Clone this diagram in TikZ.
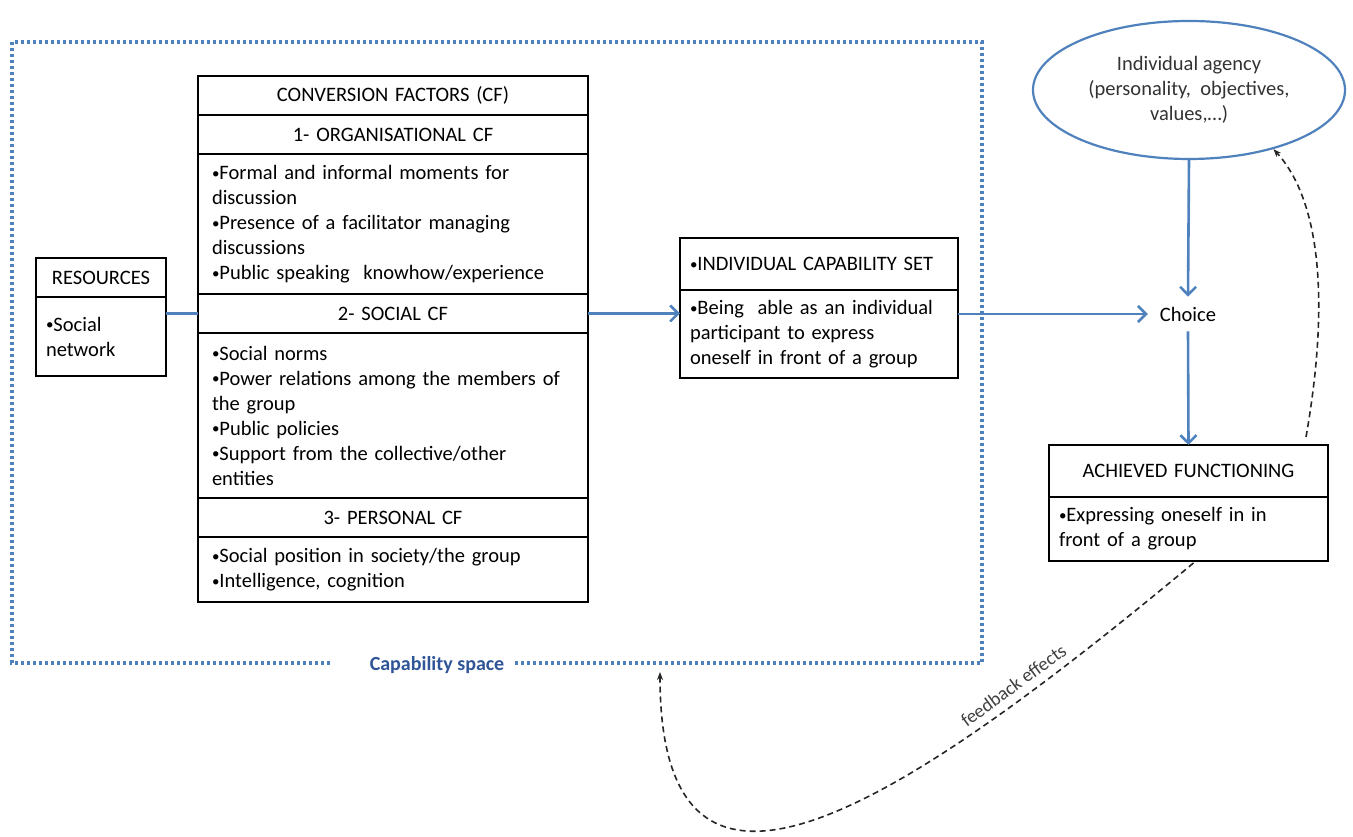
\documentclass[tikz,border=0pt]{standalone}
\usepackage{fontspec}
\setmainfont{Carlito}
\usetikzlibrary{positioning, shapes.geometric, arrows.meta}
\definecolor{office}{RGB}{79,129,189}
\definecolor{spacetext}{RGB}{47,85,151}
\newcommand\bul{\raisebox{1.2pt}{\fontsize{15}{15}\selectfont•}}

\begin{document}
\begin{tikzpicture}[x=1pt, y=1pt,
  cell/.style={draw, line width=1.3pt, outer sep=0pt, inner xsep=14pt, inner ysep=0pt,
    align=left, font=\fontsize{20.5}{25}\selectfont},
  cfhead/.style={cell, align=center, minimum height=39pt},
  flow/.style={draw=office, line width=2.6pt, -{Straight Barb[length=8pt,width=16pt]}},
  feedback/.style={draw=black!85, dash pattern=on 6pt off 4pt, line width=1.6pt, -{Stealth[length=8pt,width=6pt]}}]
  \useasboundingbox (0,0) rectangle (1353,837);

  \draw[office, line width=3.2pt, dash pattern=on 3pt off 3pt]
    (330,174) -- (12,174) -- (12,795) -- (982,795) -- (982,174) -- (515,174);
  \node[font=\fontsize{20}{22}\selectfont\bfseries, text=spacetext] (capspace) at (437,172) {Capability space};

  \node[cfhead, text width=362pt, anchor=north] (cf) at (393,761) {CONVERSION FACTORS (CF)};
  \node[cfhead, text width=362pt, below=0pt of cf] (org) {1- ORGANISATIONAL CF};
  \node[cell, text width=362pt, minimum height=140pt, below=0pt of org] (orgb)
    {\bul Formal and informal moments for\\discussion\\\bul Presence of a facilitator managing\\discussions\\\bul Public speaking\ \ knowhow/experience};
  \node[cfhead, text width=362pt, below=0pt of orgb] (soc) {2- SOCIAL CF};
  \node[cell, text width=362pt, minimum height=165pt, below=0pt of soc] (socb)
    {\bul Social norms\\\bul Power relations among the members of\\the group\\\bul Public policies\\\bul Support from the collective/other\\entities};
  \node[cfhead, text width=362pt, below=0pt of socb] (pers) {3- PERSONAL CF};
  \node[cell, text width=362pt, minimum height=65pt, below=0pt of pers] (persb)
    {\bul Social position in society/the group\\\bul Intelligence, cognition};

  \node[cfhead, inner xsep=10pt, text width=110pt, anchor=north] (res) at (101,579) {RESOURCES};
  \node[cell, inner xsep=10pt, text width=110pt, minimum height=79pt, below=0pt of res] (resb)
    {\bul Social\\network};

  \node[cell, inner xsep=10pt, text width=258pt, minimum height=52pt, anchor=north] (ics) at (819,599)
    {\bul INDIVIDUAL CAPABILITY SET};
  \node[cell, inner xsep=10pt, text width=258pt, minimum height=88pt, below=0pt of ics] (icsb)
    {\bul Being\ \ able as an individual\\participant to express\\oneself in front of a group};

  \node[ellipse, draw=office, line width=2.2pt, minimum width=312pt, minimum height=138pt,
    align=center, text=black!80, font=\fontsize{20.5}{25}\selectfont] (agency) at (1189,747)
    {Individual agency\\(personality,\ \ objectives,\\values,…)};
  \node[inner xsep=12pt, inner ysep=10pt, font=\fontsize{20.5}{25}\selectfont] (choice) at (1188,523) {Choice};

  \node[cfhead, inner xsep=10pt, text width=259pt, minimum height=52pt, anchor=north] (af) at (1188.5,392)
    {ACHIEVED FUNCTIONING};
  \node[cell, inner xsep=10pt, text width=259pt, minimum height=64pt, below=0pt of af] (afb)
    {\bul Expressing oneself in in\\front of a group};

  \coordinate (spacein) at (660,165);

  \draw[office, line width=2.6pt] (resb.east |- soc.west) -- (soc.west);
  \draw[flow] (soc.east) -- (soc.east -| icsb.west);
  \draw[flow] (icsb.east |- choice.west) -- (choice.west);
  \draw[flow] (agency.south) -- (choice.north);
  \draw[flow] (choice.south) -- (af.north);
  \draw[feedback] ([xshift=-22pt, yshift=8pt]af.north east) .. controls (1330,537) and (1320,637) .. (agency.-35);
  \draw[feedback] ([xshift=5pt, yshift=-2pt]afb.south) .. controls (893,24) and (660,-123) .. (spacein)
    node[pos=0.2, sloped, above=7pt, inner sep=1pt, text=black!75, font=\fontsize{19}{22}\selectfont] {feedback effects};
\end{tikzpicture}
\end{document}
